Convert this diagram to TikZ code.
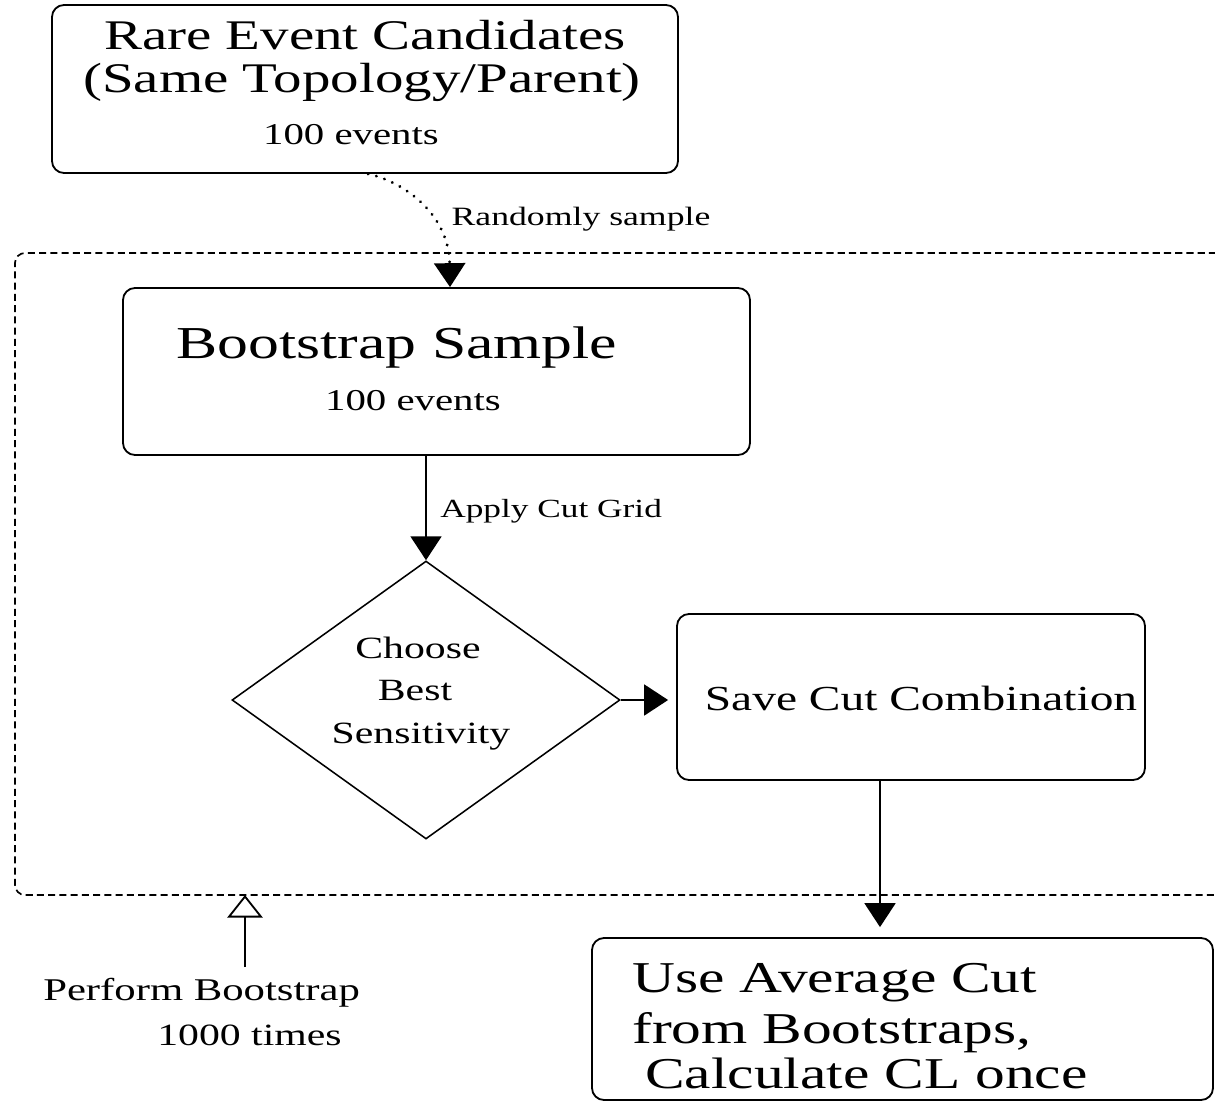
\documentclass[tikz,border=0pt]{standalone}
\usepackage{fontspec}
\setmainfont{Liberation Serif}[FakeStretch=1.35]
\usetikzlibrary{shapes.geometric,arrows.meta}
\newcommand\fsz[2]{\fontsize{#1}{#2}\selectfont}
\begin{document}
\begin{tikzpicture}[x=0.025cm,y=-0.025cm,
  box/.style={draw, line width=1.3pt, rounded corners=0.3cm, inner sep=0pt},
  txt/.style={anchor=base, inner sep=0pt},
  txtl/.style={anchor=base west, inner sep=0pt},
  conn/.style={line width=1.3pt, -{Triangle[width=22pt,length=17pt]}},
  frame/.style={line width=1.2pt, dash pattern=on 5pt off 3pt, rounded corners=0.25cm},
]
\useasboundingbox (0,0) rectangle (1215,1103);
\clip (0,0) rectangle (1215,1103);
\fill[white] (0,0) rectangle (1215,1103);

% dashed loop frame
\draw[frame] (1216,253) -- (15,253) -- (15,895) -- (1216,895);
\coordinate (frameb) at (245,895);

% boxes
\node[box, minimum width=626*0.025cm, minimum height=168*0.025cm] (top) at (365,89) {};
\node[box, minimum width=627*0.025cm, minimum height=167*0.025cm] (bs) at (436.5,371.5) {};
\node[draw, diamond, line width=1.1pt, inner sep=0pt, minimum width=388*0.025cm, minimum height=278*0.025cm] (dia) at (426,700) {};
\node[box, minimum width=468*0.025cm, minimum height=166*0.025cm] (save) at (911,697) {};
\node[box, minimum width=621*0.025cm, minimum height=162*0.025cm] (final) at (902.5,1019) {};

% texts
\node[txt] (t1) at (365,50) {\fsz{30}{32}Rare Event Candidates};
\node[txt] (t2) at (362,93) {\fsz{30}{32}(Same Topology/Parent)};
\node[txt] (t3) at (351,145) {\fsz{21.5}{24}100 events};
\node[txt] (b1) at (397,358) {\fsz{32.5}{36}Bootstrap Sample};
\node[txt] (b2) at (413,410) {\fsz{21.5}{24}100 events};
\node[txt] (rs) at (581,225) {\fsz{18.8}{22}Randomly sample};
\node[txtl] (ag) at (440,517) {\fsz{18.6}{22}Apply Cut Grid};
\node[txt] (d1) at (418,658) {\fsz{22}{26}Choose};
\node[txt] (d2) at (415,700) {\fsz{22}{26}Best};
\node[txt] (d3) at (421,743) {\fsz{22}{26}Sensitivity};
\node[txt] (s1) at (921,710) {\fsz{25}{28}Save Cut Combination};
\node[txtl] (f1) at (632,992) {\fsz{31.3}{35}Use Average Cut};
\node[txtl] (f2) at (632,1043) {\fsz{31.3}{35}from Bootstraps,};
\node[txtl] (f3) at (645,1088) {\fsz{31.3}{35}Calculate CL once};
\node[txtl] (p1) at (43,1000) {\fsz{22.5}{26}Perform Bootstrap};
\node[txtl] (p2) at (157,1045) {\fsz{22}{26}1000 times};

% connectors
\draw[line width=2.2pt, dash pattern=on 0.1pt off 6pt, line cap=round,
      -{Triangle[width=22pt,length=17pt]}]
  ([xshift=3*0.025cm]top.south) .. controls (405,182) and (449,215) .. ([xshift=13.5*0.025cm]bs.north);
\draw[conn] (bs.south -| dia.north) -- (dia.north);
\draw[conn, shorten >=8*0.025cm] (dia.east) -- (dia.east -| save.west);
\draw[conn, shorten >=10*0.025cm] ([xshift=-31*0.025cm]save.south) -- ([xshift=-22.5*0.025cm]final.north);
\coordinate (pbtop) at (245,967);
\draw[line width=1.3pt, -{Triangle[open,width=25pt,length=16pt]}] (pbtop) -- (frameb);
\end{tikzpicture}
\end{document}
